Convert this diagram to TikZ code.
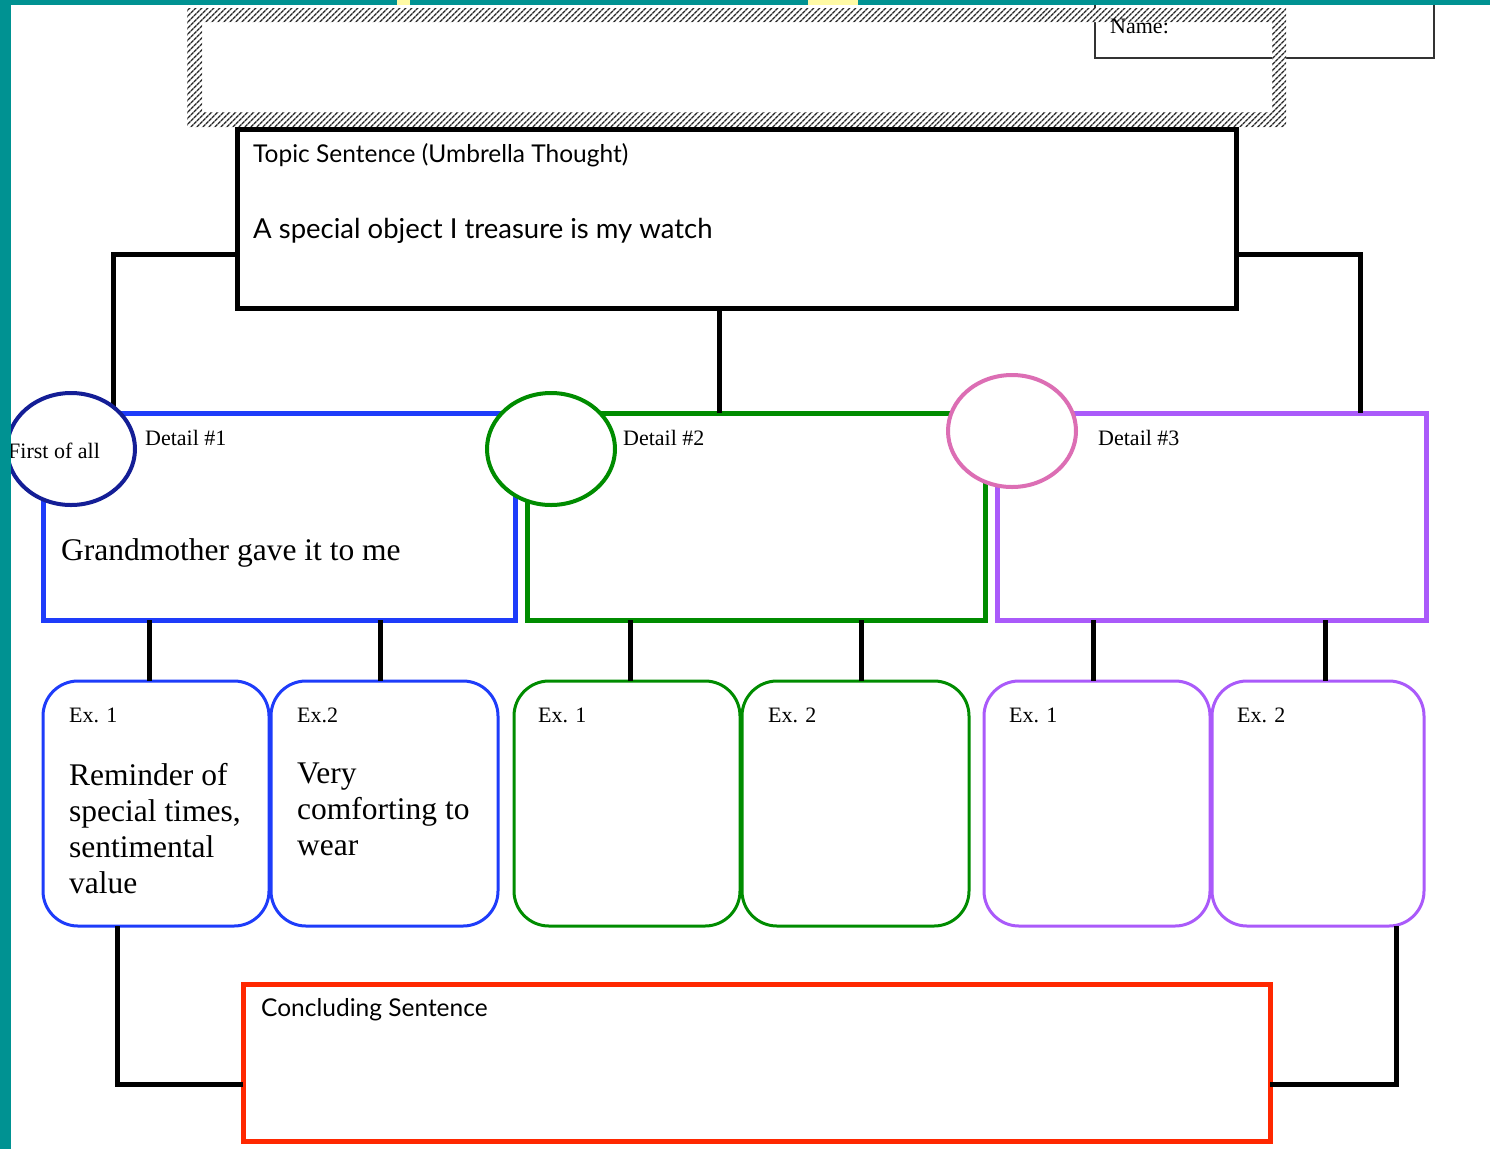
\documentclass[tikz,border=0pt]{standalone}
\usepackage{fontspec}
\setmainfont{Liberation Serif}
\newfontfamily\handfont{Lato}
\usetikzlibrary{shapes,positioning,patterns.meta}

\definecolor{sheet}{RGB}{0,146,146}
\definecolor{marker}{RGB}{255,250,165}
\definecolor{detblue}{RGB}{30,60,250}
\definecolor{detgreen}{RGB}{0,140,0}
\definecolor{detpurple}{RGB}{170,90,250}
\definecolor{ringblue}{RGB}{20,30,150}
\definecolor{ringpink}{RGB}{220,110,180}
\definecolor{endred}{RGB}{255,40,0}

\tikzset{
	bigbox/.style={draw=#1, line width=5, outer sep=0, inner sep=0, anchor=north west},
	exbox/.style={draw=#1, line width=3, rounded corners=35, outer sep=0, inner sep=0, anchor=north west},
	ring/.style={ellipse, draw=#1, line width=4, fill=white, outer sep=0, inner sep=0, minimum width=128, minimum height=112},
	link/.style={line width=5, black},
	lbl/.style={inner sep=0, anchor=base west, font=\fontsize{22}{26}\selectfont},
	bigtxt/.style={inner sep=0, anchor=north west, align=left, font=\fontsize{31.5}{36}\selectfont},
	hand/.style={inner sep=0, anchor=base west, font=\handfont\fontsize{#1}{#1}\selectfont}
}

\begin{document}
\begin{tikzpicture}[x=1pt,y=-1pt]
	\useasboundingbox (0,0) rectangle (1490,1149);
	\fill[white] (0,0) rectangle (1490,1149);

	% name strip
	\node[draw=black!80, line width=2, outer sep=0, inner sep=0, minimum width=339, minimum height=70, anchor=south west] (name) at (1095,58) {};
	\fill[white, even odd rule] (187,8) rectangle (1286,127) (202,22) rectangle (1272,112);
	\fill[pattern={Lines[angle=45,distance=4pt,line width=1.5pt]}, pattern color=black!85, even odd rule]
		(187,8) rectangle (1286,127) (202,22) rectangle (1272,112);
	\node[lbl] (nametxt) at (1110,33) {Name:};

	% topic box
	\node[bigbox=black, minimum width=999, minimum height=179] (topic) at (237,129) {};
	\node[hand=24.5] (topichead) at (253,162) {Topic Sentence (Umbrella Thought)};
	\node[hand=27.5] (topictxt) at (253,238) {A special object I treasure is my watch};

	% detail boxes
	\node[bigbox=detblue, minimum width=472, minimum height=207] (det1) at (43,413) {};
	\node[bigbox=detgreen, minimum width=458, minimum height=207] (det2) at (527,413) {};
	\node[bigbox=detpurple, minimum width=429, minimum height=207] (det3) at (997,413) {};

	\draw[link] (topic.west |- 0,254) -| (113,0 |- det1.north);
	\draw[link] (topic.south -| 719,0) -- (det2.north -| 719,0);
	\draw[link] (topic.east |- 0,254) -| (1360,0 |- det3.north);

	\node[lbl] (det1txt) at (145,445) {Detail \#1};
	\node[lbl] (det2txt) at (623,445) {Detail \#2};
	\node[lbl] (det3txt) at (1098,445) {Detail \#3};
	\node[lbl, font=\fontsize{31.5}{36}\selectfont] (det1body) at (61,560) {Grandmother gave it to me};

	% circles
	\node[ring=ringblue] (ring1) at (71,449) {};
	\node[lbl] (ring1txt) at (8,458) {First of all};
	\node[ring=detgreen] (ring2) at (551,449) {};
	\node[ring=ringpink] (ring3) at (1012,431) {};

	% examples
	\node[exbox=detblue, minimum width=226, minimum height=245] (ex11) at (43,681) {};
	\node[exbox=detblue, minimum width=227, minimum height=245] (ex12) at (271,681) {};
	\node[exbox=detgreen, minimum width=226, minimum height=245] (ex21) at (514,681) {};
	\node[exbox=detgreen, minimum width=227, minimum height=245] (ex22) at (742,681) {};
	\node[exbox=detpurple, minimum width=226, minimum height=245] (ex31) at (984,681) {};
	\node[exbox=detpurple, minimum width=212, minimum height=245] (ex32) at (1212,681) {};

	\draw[link] (det1.south -| 149,0) -- (ex11.north -| 149,0);
	\draw[link] (det1.south -| 380,0) -- (ex12.north -| 380,0);
	\draw[link] (det2.south -| 630,0) -- (ex21.north -| 630,0);
	\draw[link] (det2.south -| 861,0) -- (ex22.north -| 861,0);
	\draw[link] (det3.south -| 1093,0) -- (ex31.north -| 1093,0);
	\draw[link] (det3.south -| 1325,0) -- (ex32.north -| 1325,0);

	\node[lbl] (ex11txt) at (69,722) {Ex. 1};
	\node[lbl] (ex12txt) at (297,722) {Ex.2};
	\node[lbl] (ex21txt) at (538,722) {Ex. 1};
	\node[lbl] (ex22txt) at (768,722) {Ex. 2};
	\node[lbl] (ex31txt) at (1009,722) {Ex. 1};
	\node[lbl] (ex32txt) at (1237,722) {Ex. 2};
	\node[bigtxt] (ex11body) at (69,763) {Reminder of\\special times,\\sentimental\\value};
	\node[bigtxt] (ex12body) at (297,763) {Very\\comforting to\\wear};

	% concluding
	\node[bigbox=endred, minimum width=1027, minimum height=157] (concl) at (243,984) {};
	\node[hand=24.5] (concltxt) at (261,1016) {Concluding Sentence};
	\draw[link] (ex11.south -| 117,0) |- (concl.west |- 0,1084);
	\draw[link] (ex32.south -| 1396,0) |- (concl.east |- 0,1084);

	% frame
	\fill[sheet] (0,0) rectangle (11,1149);
	\fill[sheet] (0,0) rectangle (1490,5);
	\fill[marker] (397,0) rectangle (410,5);
	\fill[marker] (808,0) rectangle (858,5);
\end{tikzpicture}
\end{document}
